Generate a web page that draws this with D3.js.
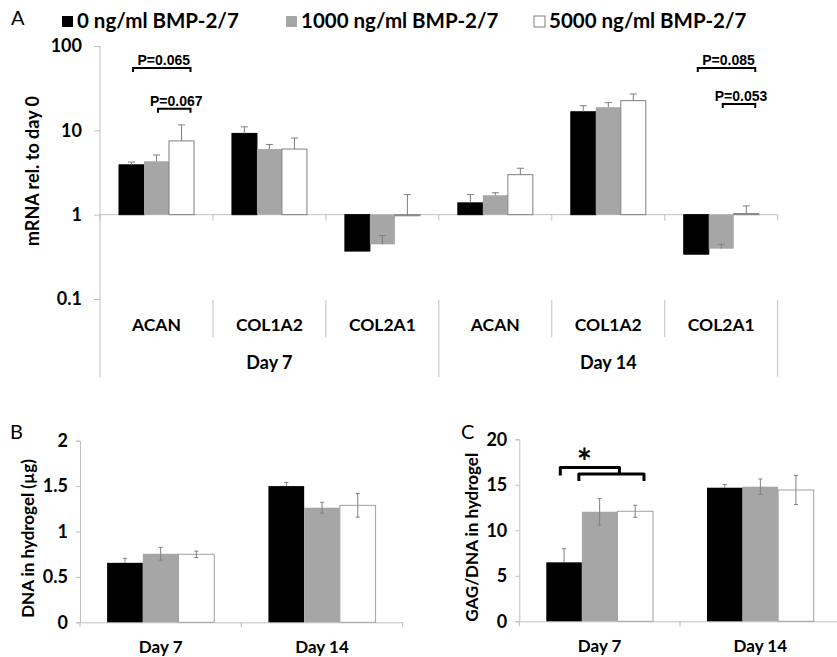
<html>
<head>
<script src="https://d3js.org/d3.v7.min.js"></script>
<style>
	body { margin: 0; background: #fff; }
	text { font-family: Lato, 'Open Sans', sans-serif; font-weight: bold; fill: #000; }
	.pval { font-family: 'Liberation Sans', Arial, sans-serif; font-size: 14px; }
	.axis path, .axis line { stroke: #bfbfbf; }
</style>
</head>
<body>
<svg width="837" height="657"></svg>
<script>
const series = ['0 ng/ml BMP-2/7', '1000 ng/ml BMP-2/7', '5000 ng/ml BMP-2/7'];
const colors = ['#000000', '#a6a6a6', '#ffffff'];
const genes = ['ACAN', 'COL1A2', 'COL2A1'];
const days = ['Day 7', 'Day 14'];

// A: mRNA rel. to day 0 (Day 7 ACAN, COL1A2, COL2A1, Day 14 ACAN, COL1A2, COL2A1)
const mrna0 = [3.9, 9.2, 0.37, 1.38, 16.6, 0.34];
const mrna1000 = [4.3, 6.0, 0.445, 1.70, 18.8, 0.395];
const mrna5000 = [7.5, 6.0, 0.97, 2.98, 22.5, 1.03];
const mrnaErr0 = [0.3, 1.8, 0, 0.35, 3.0, 0];
const mrnaErr1000 = [0.8, 0.8, 0.12, 0.12, 2.5, 0.05];
const mrnaErr5000 = [4.1, 2.1, 0.76, 0.57, 4.5, 0.24];
const mrnaTicks = [0.1, 1, 10, 100];
// brackets: category index, from series, to series, level
const pvals = [
	{ label: 'P=0.065', cat: 0, a: 0, b: 2, level: 55 },
	{ label: 'P=0.067', cat: 0, a: 1, b: 2, level: 18 },
	{ label: 'P=0.085', cat: 5, a: 0, b: 2, level: 55 },
	{ label: 'P=0.053', cat: 5, a: 1, b: 2, level: 20.5 }
];

// B: DNA in hydrogel (µg)
const dna0 = [0.655, 1.50];
const dna1000 = [0.755, 1.262];
const dna5000 = [0.749, 1.288];
const dnaErr0 = [0.05, 0.04];
const dnaErr1000 = [0.07, 0.06];
const dnaErr5000 = [0.035, 0.13];
const dnaTicks = [0, 0.5, 1, 1.5, 2];

// C: GAG/DNA in hydrogel
const gag0 = [6.48, 14.68];
const gag1000 = [12.04, 14.79];
const gag5000 = [12.09, 14.43];
const gagErr0 = [1.5, 0.35];
const gagErr1000 = [1.46, 0.85];
const gagErr5000 = [0.66, 1.6];
const gagTicks = [0, 5, 10, 15, 20];

const svg = d3.select('svg');

// ---------- legend + panel letters ----------
svg.append('text').attr('x', 11).attr('y', 25).style('font-weight', 'normal').style('font-size', '20px').text('A');
svg.append('text').attr('x', 10).attr('y', 439).style('font-weight', 'normal').style('font-size', '20px').text('B');
svg.append('text').attr('x', 461).attr('y', 439).style('font-weight', 'normal').style('font-size', '20px').text('C');

const legX = [62, 286, 534];
const leg = svg.append('g').selectAll('g').data(series).join('g')
	.attr('transform', (d, i) => `translate(${legX[i]},16)`);
leg.append('rect').attr('width', 11).attr('height', 11)
	.attr('fill', (d, i) => colors[i])
	.attr('stroke', (d, i) => i == 2 ? '#7f7f7f' : 'none');
leg.append('text').attr('x', 15).attr('y', 11.5).style('font-size', '20.5px').text(d => d);

// ---------- panel A ----------
const cats = [];
days.forEach(d => genes.forEach(g => cats.push(d + '|' + g)));
const xA = d3.scaleBand().domain(cats).range([100, 777.7]);
const xA1 = d3.scaleBand().domain(d3.range(3)).range([19, 94]);
const yA = d3.scaleLog().domain([0.1, 100]).range([299, 46]);
const base = yA(1);

const gA = svg.append('g');
gA.append('g').attr('class', 'axis').attr('transform', 'translate(100,0)')
	.call(d3.axisLeft(yA).tickValues(mrnaTicks).tickFormat(d3.format('~g')).tickSize(6).tickPadding(12))
	.call(g => g.select('.domain').remove())
	.call(g => g.selectAll('text').style('font-size', '18px').attr('font-family', null));
gA.append('line').attr('x1', 100).attr('x2', 100).attr('y1', yA(100)).attr('y2', 377).attr('stroke', '#bfbfbf');

// horizontal axis at 1, with ticks at category boundaries
const bounds = cats.map(c => xA(c)).concat([xA.range()[1]]);
gA.append('line').attr('x1', 100).attr('x2', xA.range()[1]).attr('y1', base).attr('y2', base).attr('stroke', '#bfbfbf');
gA.selectAll('.tk').data(bounds).join('line')
	.attr('x1', d => d).attr('x2', d => d).attr('y1', base).attr('y2', base + 6).attr('stroke', '#bfbfbf');
gA.selectAll('.sep').data(bounds.slice(1)).join('line')
	.attr('x1', d => d).attr('x2', d => d)
	.attr('y1', yA(0.1) + 1)
	.attr('y2', (d, i) => (i == 2 || i == 5) ? 377 : 337)
	.attr('stroke', '#bfbfbf');
gA.selectAll('.catlab').data(cats).join('text')
	.attr('x', d => xA(d) + xA.bandwidth() / 2).attr('y', 331)
	.attr('text-anchor', 'middle').style('font-size', '17.5px')
	.text(d => d.split('|')[1]);
gA.selectAll('.daylab').data(days).join('text')
	.attr('x', (d, i) => xA(cats[i * 3]) + xA.bandwidth() * 1.5).attr('y', 369)
	.attr('text-anchor', 'middle').style('font-size', '18px')
	.text(d => d);
gA.append('text').attr('transform', 'translate(39,171) rotate(-90)')
	.attr('text-anchor', 'middle').style('font-size', '18px').text('mRNA rel. to day 0');

const mrnaVals = [mrna0, mrna1000, mrna5000];
const mrnaErrs = [mrnaErr0, mrnaErr1000, mrnaErr5000];
const barsA = [];
mrnaVals.forEach((vals, s) => vals.forEach((v, i) => barsA.push({ s, cat: cats[i], v, e: mrnaErrs[s][i] })));

gA.append('g').selectAll('rect').data(barsA).join('rect')
	.attr('x', d => xA(d.cat) + xA1(d.s))
	.attr('width', xA1.bandwidth())
	.attr('y', d => Math.min(yA(d.v), base))
	.attr('height', d => Math.abs(yA(d.v) - base))
	.attr('fill', d => colors[d.s])
	.attr('stroke', d => d.s == 2 ? '#7f7f7f' : d.s == 0 ? '#000' : 'none')
	.attr('stroke-width', 1);

// positive error bars only
const errA = gA.append('g').attr('stroke', '#7f7f7f');
barsA.filter(d => d.e > 0).forEach(d => {
	const cx = xA(d.cat) + xA1(d.s) + xA1.bandwidth() / 2;
	errA.append('line').attr('x1', cx).attr('x2', cx).attr('y1', yA(d.v)).attr('y2', yA(d.v + d.e));
	errA.append('line').attr('x1', cx - 3.5).attr('x2', cx + 3.5).attr('y1', yA(d.v + d.e)).attr('y2', yA(d.v + d.e));
});

const pA = gA.append('g');
pvals.forEach(p => {
	const c = cats[p.cat];
	const xa = xA(c) + xA1(p.a) + xA1.bandwidth() / 2 + 1.5;
	const xb = xA(c) + xA1(p.b) + xA1.bandwidth() / 2 + 9;
	const y = yA(p.level);
	pA.append('path').attr('d', `M${xa},${y + 4}V${y}H${xb}V${y + 4}`)
		.attr('fill', 'none').attr('stroke', '#000').attr('stroke-width', 2);
	pA.append('text').attr('class', 'pval').attr('x', (xa + xb) / 2 + 2).attr('y', y - 3)
		.attr('text-anchor', 'middle').text(p.label);
});

// ---------- panels B and C ----------
function panel(x0, x1, yRange, domain, ticks, vals, errs, title, titleX) {
	const g = svg.append('g');
	const x = d3.scaleBand().domain(days).range([x0, x1]);
	const xs = d3.scaleBand().domain(d3.range(3)).range([x.bandwidth() * 0.168, x.bandwidth() * 0.832]);
	const y = d3.scaleLinear().domain(domain).range(yRange);
	g.append('g').attr('class', 'axis').attr('transform', `translate(${x0},0)`)
		.call(d3.axisLeft(y).tickValues(ticks).tickFormat(d3.format('~g')).tickSize(4).tickPadding(8))
		.call(a => a.selectAll('text').style('font-size', '18px').attr('font-family', null));
	g.append('g').attr('class', 'axis').attr('transform', `translate(0,${y(0)})`)
		.call(d3.axisBottom(x).tickSize(0).tickPadding(19))
		.call(a => a.selectAll('text').style('font-size', '17px').attr('font-family', null));
	g.selectAll('.tk').data(days.map(d => x(d)).concat([x1])).join('line')
		.attr('x1', d => d).attr('x2', d => d).attr('y1', y(0)).attr('y2', y(0) + 5).attr('stroke', '#bfbfbf');
	g.append('text').attr('transform', `translate(${titleX},${(yRange[0] + yRange[1]) / 2 + 7}) rotate(-90)`)
		.attr('text-anchor', 'middle').style('font-size', '17px').text(title);

	const data = [];
	vals.forEach((vs, s) => vs.forEach((v, i) => data.push({ s, day: days[i], v, e: errs[s][i] })));
	g.append('g').selectAll('rect').data(data).join('rect')
		.attr('x', d => x(d.day) + xs(d.s))
		.attr('width', xs.bandwidth())
		.attr('y', d => y(d.v))
		.attr('height', d => y(0) - y(d.v))
		.attr('fill', d => colors[d.s])
		.attr('stroke', d => d.s == 2 ? '#a0a0a0' : 'none');
	const eg = g.append('g').attr('stroke', '#808080').attr('stroke-width', 1);
	data.forEach(d => {
		const cx = x(d.day) + xs(d.s) + xs.bandwidth() / 2;
		// on the black bars the lower half disappears
		const lo = d.s == 0 ? d.v : d.v - d.e;
		eg.append('line').attr('x1', cx).attr('x2', cx).attr('y1', y(lo)).attr('y2', y(d.v + d.e));
		[lo, d.v + d.e].forEach(t => eg.append('line')
			.attr('x1', cx - 2).attr('x2', cx + 2).attr('y1', y(t)).attr('y2', y(t))
			.attr('stroke-opacity', t == d.v ? 0 : 1));
	});
	return { g, x, xs, y };
}

panel(80, 402.7, [622.3, 440.7], [0, 2], dnaTicks, [dna0, dna1000, dna5000],
	[dnaErr0, dnaErr1000, dnaErr5000], 'DNA in hydrogel (µg)', 34);
const pc = panel(519.3, 840.7, [621.3, 439.3], [0, 20], gagTicks, [gag0, gag1000, gag5000],
	[gagErr0, gagErr1000, gagErr5000], 'GAG/DNA in hydrogel', 478);

// significance brackets in C (Day 7: 0 vs 1000, 1000/0 vs 5000)
const bw = pc.xs.bandwidth();
const bx = s => pc.x('Day 7') + pc.xs(s);
const y1 = pc.y(16.9), y2 = pc.y(16.2);
pc.g.append('path')
	.attr('d', `M${bx(0) + 14},${y1 + 8}V${y1}H${bx(1) + bw + 2}V${y2}`)
	.attr('fill', 'none').attr('stroke', '#000').attr('stroke-width', 3).attr('stroke-linejoin', 'round');
pc.g.append('path')
	.attr('d', `M${bx(1) - 3},${y2 + 7}V${y2}H${bx(2) + bw - 9}V${y2 + 7}`)
	.attr('fill', 'none').attr('stroke', '#000').attr('stroke-width', 3).attr('stroke-linejoin', 'round');
pc.g.append('text').attr('x', bx(0) + 38).attr('y', y1 + 7).attr('text-anchor', 'middle')
	.style('font-size', '36px').text('*');
</script>
</body>
</html>
